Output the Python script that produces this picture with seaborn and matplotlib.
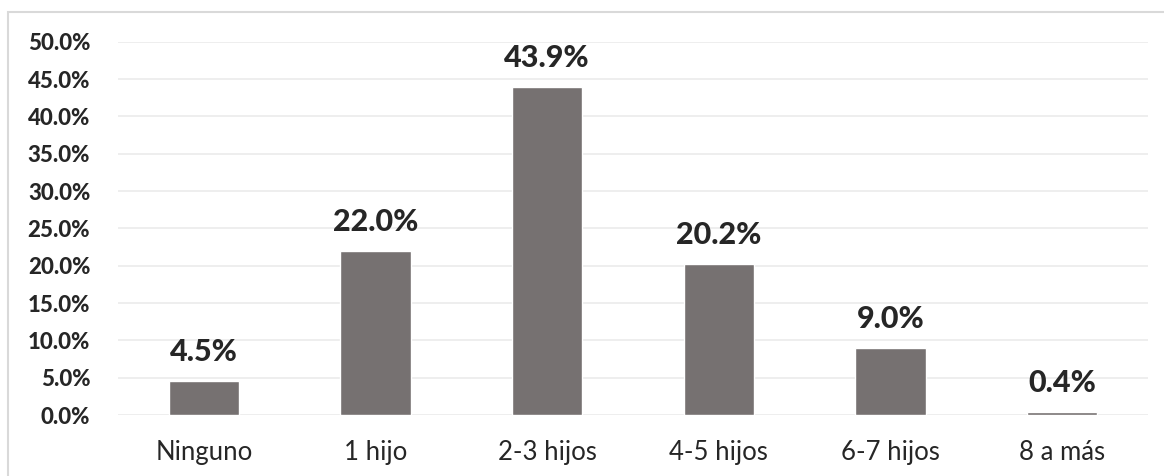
import pandas as pd
import matplotlib.pyplot as plt
import seaborn as sns
from matplotlib.patches import Rectangle
from matplotlib.ticker import PercentFormatter

# Distribution of number of children
categorias = ["Ninguno", "1 hijo", "2-3 hijos", "4-5 hijos", "6-7 hijos", "8 a más"]
porcentajes = [4.5, 22.0, 43.9, 20.2, 9.0, 0.4]

df = pd.DataFrame({"Hijos": categorias, "Porcentaje": porcentajes})

sns.set_style("white")
plt.rcParams["font.family"] = ["Lato", "DejaVu Sans"]

fig = plt.figure(figsize=(11.64, 4.76), dpi=100)
ax = fig.add_axes([0.1014, 0.128, 0.8849, 0.7844])

sns.barplot(data=df, x="Hijos", y="Porcentaje", color="#767171",
            width=0.41, saturation=1, ax=ax, zorder=3)

ax.set_ylim(0, 50)
ax.set_yticks(range(0, 51, 5))
ax.yaxis.set_major_formatter(PercentFormatter(decimals=1))
ax.grid(axis="y", color="#ededed", linewidth=1.3, zorder=0)
ax.set_xlabel("")
ax.set_ylabel("")
for s in ax.spines.values():
    s.set_visible(False)
ax.tick_params(axis="both", length=0)
ax.tick_params(axis="y", pad=20)
ax.tick_params(axis="x", pad=18)

for lbl in ax.get_yticklabels():
    lbl.set_fontsize(16)
    lbl.set_fontweight("black")
for lbl in ax.get_xticklabels():
    lbl.set_fontsize(18.5)

for bar, val in zip(ax.patches, porcentajes):
    ax.annotate(f"{val:.1f}%", (bar.get_x() + bar.get_width() / 2, bar.get_height()),
                xytext=(0, 11), textcoords="offset points", ha="center", va="bottom",
                fontsize=22, fontweight="black")

# light border around the chart area
fig.patches.append(Rectangle((8 / 1164, -0.1), 1.2, (476 - 12) / 476 + 0.1,
                             transform=fig.transFigure, fill=False,
                             edgecolor="#d9d9d9", linewidth=1.5))

plt.savefig("out.png", dpi=100)
